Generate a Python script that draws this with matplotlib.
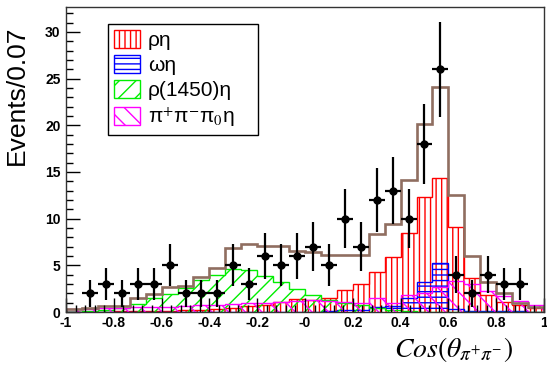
import numpy as np
import matplotlib
matplotlib.use("Agg")
import matplotlib.pyplot as plt
from matplotlib.patches import Patch
from matplotlib.ticker import MultipleLocator

plt.rcParams['font.family'] = ['Liberation Sans', 'DejaVu Sans']
plt.rcParams['mathtext.fontset'] = 'stix'
plt.rcParams['hatch.linewidth'] = 1.0

# 30 bins over cos(theta) in [-1, 1]
edges = np.linspace(-1, 1, 31)
centers = 0.5 * (edges[:-1] + edges[1:])

data_counts = [0, 2, 3, 2, 3, 3, 5, 2, 2, 2, 5, 3, 6, 5, 6,
               7, 5, 10, 7, 12, 13, 10, 18, 26, 4, 2, 4, 3, 3, 0]

total_fit = [0.35, 0.4, 0.65, 0.65, 1.45, 1.9, 2.65, 2.75, 3.8, 4.7,
             6.85, 7.3, 7.1, 7.1, 6.5, 6.45, 6.1, 6.1, 6.1, 8.4,
             9.4, 14.1, 20.1, 24.1, 12.5, 6.0, 3.25, 2.0, 0.95, 0.5]

rho_eta = [0.05, 0.05, 0.05, 0.1, 0.1, 0.1, 0.15, 0.2, 0.25, 0.3,
           0.4, 0.6, 0.8, 1.1, 1.4, 1.3, 1.5, 2.4, 3.0, 4.3,
           5.9, 8.5, 12.3, 14.4, 9.1, 3.6, 1.8, 1.1, 0.75, 0.4]

omega_eta = [0, 0, 0, 0, 0, 0, 0, 0, 0, 0,
             0, 0, 0, 0, 0, 0.05, 0.15, 0.2, 0.2, 0.5,
             0.6, 1.5, 3.2, 5.2, 0.35, 0.1, 0.1, 0.1, 0.1, 0]

rho1450_eta = [0.05, 0.1, 0.2, 0.4, 0.85, 1.45, 1.9, 2.6, 3.4, 3.95,
               4.6, 4.45, 3.9, 3.2, 2.45, 1.8, 1.3, 0.95, 0.7, 0.4,
               0.2, 0.1, 0.05, 0.05, 0.05, 0, 0, 0, 0, 0]

pipipi0_eta = [0.3, 0.3, 0.4, 0.4, 0.5, 0.5, 0.5, 0.6, 0.7, 0.8,
               0.9, 1.0, 1.0, 1.1, 1.2, 1.3, 1.2, 1.1, 1.0, 1.5,
               1.0, 1.8, 2.0, 2.7, 3.3, 3.0, 2.3, 1.7, 1.2, 0.8]

components = [
    (rho_eta, 'red', '|||', 'ρη'),
    (omega_eta, 'blue', '---', 'ωη'),
    (rho1450_eta, '#00ee00', '//', 'ρ(1450)η'),
    (pipipi0_eta, '#ff00ff', '\\\\', 'π$^{+}$π$^{-}$π$_{0}$η'),
]

fig = plt.figure(figsize=(5.47, 3.65), dpi=100)
ax = fig.add_axes([0.1207, 0.1452, 0.8738, 0.8364])

handles = []
for vals, col, hatch, lab in components:
    ax.stairs(vals, edges, fill=True, facecolor='none', edgecolor=col,
              hatch=hatch, linewidth=1.0)
    handles.append(Patch(facecolor='none', edgecolor=col, hatch=hatch,
                         linewidth=1.0, label=lab))

ax.stairs(total_fit, edges, color='#8f6e60', linewidth=1.9)

counts = np.array(data_counts, dtype=float)
mask = counts > 0
half_w = 0.5 * (edges[1] - edges[0])
ax.errorbar(centers[mask], counts[mask], yerr=np.sqrt(counts[mask]),
            xerr=half_w, fmt='o', color='black', markersize=5,
            elinewidth=1.6, capsize=0, zorder=5)

ax.set_xlim(-1, 1)
ax.set_ylim(0, 32.7)

ax.xaxis.set_major_locator(MultipleLocator(0.2))
ax.xaxis.set_minor_locator(MultipleLocator(0.04))
ax.yaxis.set_major_locator(MultipleLocator(5))
ax.yaxis.set_minor_locator(MultipleLocator(1))
xt = np.linspace(-1, 1, 11)
ax.set_xticks(xt)
ax.set_xticklabels(['-1', '-0.8', '-0.6', '-0.4', '-0.2', '-0',
                    '0.2', '0.4', '0.6', '0.8', '1'])
ax.tick_params(axis='both', which='both', direction='in', top=False,
               right=False, labelsize=10)
ax.tick_params(axis='both', which='major', length=10, width=1)
ax.tick_params(axis='both', which='minor', length=5, width=1)
for lbl in ax.get_xticklabels() + ax.get_yticklabels():
    lbl.set_fontweight('bold')
ax.tick_params(axis='x', pad=3)
ax.tick_params(axis='y', pad=4)
for sp in ax.spines.values():
    sp.set_color('#333333')
    sp.set_linewidth(1.0)

ax.set_ylabel('Events/0.07', fontsize=19)
ax.yaxis.set_label_coords(-0.078, 0.71)
ax.set_xlabel(r'$Cos(\theta_{\pi^{+}\pi^{-}})$', fontsize=20)
ax.xaxis.set_label_coords(0.81, -0.075)

leg = ax.legend(handles=handles, loc='upper left',
                bbox_to_anchor=(0.088, 0.6, 0.314, 0.343), mode='expand',
                fontsize=15, handlelength=1.25, handleheight=0.9,
                handletextpad=0.35, labelspacing=0.25, borderpad=0.3,
                borderaxespad=0, fancybox=False, framealpha=1)
leg.get_frame().set_edgecolor('black')
leg.get_frame().set_linewidth(1.0)

fig.savefig('out.png', dpi=100)
